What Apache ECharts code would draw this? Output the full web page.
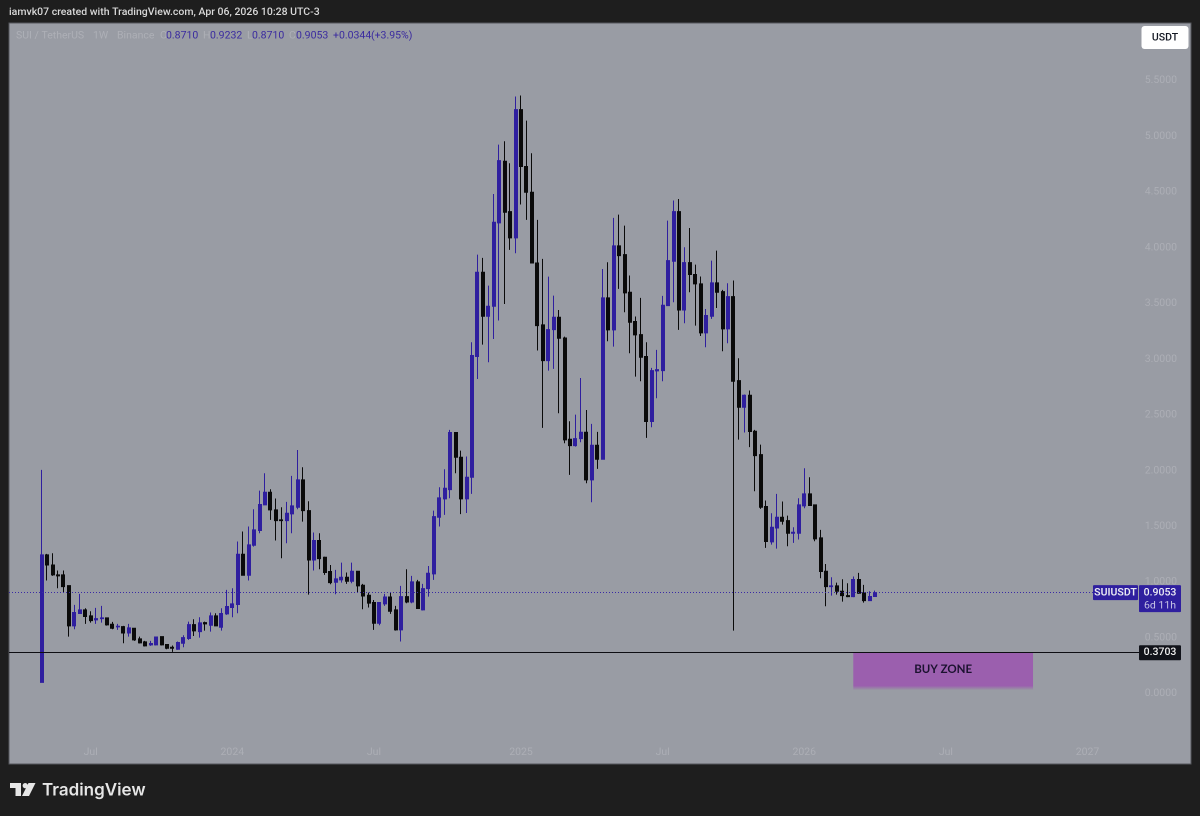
<!DOCTYPE html>
<html>
<head>
<meta charset="utf-8">
<style>
html,body{margin:0;padding:0;background:#1e1e1e;}
#chart{width:1200px;height:816px;}
</style>
<script src="https://cdn.jsdelivr.net/npm/echarts@6/dist/echarts.min.js"></script>
</head>
<body>
<div id="chart"></div>
<script>
// weekly SUIUSDT candles, first week is 2023-05-01
const openPrices=[0.10,1.244,1.154,1.065,1.065,0.969,0.607,0.718,0.751,0.697,0.661,0.673,0.679,0.622,0.598,0.601,0.544,0.586,0.491,0.464,
0.437,0.437,0.511,0.44,0.416,0.398,0.452,0.494,0.619,0.556,0.637,0.613,0.697,0.595,0.715,0.772,0.799,1.25,1.062,1.331,
1.463,1.693,1.806,1.648,1.558,1.552,1.612,1.672,1.917,1.642,1.199,1.373,1.223,1.095,0.999,1.02,1.044,1.008,1.098,0.972,
0.882,0.817,0.631,0.805,0.867,0.751,0.571,0.87,0.822,1.002,0.751,0.942,1.074,1.582,1.747,1.83,2.342,2.121,1.747,1.941,
3.024,3.78,3.386,3.475,4.223,4.776,4.325,4.089,5.24,4.729,4.498,3.864,3.308,2.988,3.266,3.377,3.191,2.282,2.225,2.288,
2.345,1.917,2.228,2.103,3.55,3.263,4.017,3.939,3.601,3.338,3.221,3.024,2.441,2.895,2.898,3.481,3.879,4.325,3.442,3.867,
3.76,3.676,3.236,3.386,3.685,3.607,3.272,3.562,2.808,2.569,2.677,2.354,2.144,1.678,1.361,1.486,1.582,1.552,1.439,1.439,
1.684,1.792,1.693,1.397,1.098,0.96,0.966,0.918,0.879,0.87,1.023,0.903,0.834,0.871];
const closePrices=[1.244,1.154,1.065,1.056,0.96,0.607,0.727,0.751,0.691,0.655,0.673,0.679,0.616,0.586,0.604,0.544,0.589,0.482,0.455,0.428,
0.449,0.508,0.437,0.407,0.407,0.458,0.502,0.619,0.562,0.634,0.625,0.697,0.607,0.718,0.781,0.805,1.25,1.062,1.334,1.469,
1.696,1.806,1.648,1.552,1.552,1.618,1.684,1.917,1.642,1.199,1.373,1.211,1.086,0.996,1.029,1.044,1.008,1.098,0.966,0.876,
0.811,0.631,0.817,0.867,0.739,0.571,0.87,0.822,1.002,0.763,0.942,1.08,1.588,1.756,1.842,2.342,2.121,1.747,1.941,3.033,
3.78,3.386,3.475,4.229,4.782,4.319,4.089,5.24,4.729,4.498,3.864,3.302,2.988,3.266,3.377,3.188,2.276,2.225,2.288,2.345,
1.917,2.228,2.103,3.55,3.263,4.017,3.93,3.595,3.332,3.218,3.018,2.441,2.898,2.907,3.484,3.885,4.325,3.442,3.867,3.76,
3.676,3.236,3.392,3.685,3.601,3.272,3.562,2.802,2.569,2.677,2.352,2.135,1.672,1.364,1.492,1.582,1.546,1.439,1.448,1.693,
1.792,1.687,1.388,1.095,0.96,0.966,0.918,0.879,0.87,1.023,0.9,0.834,0.871,0.9053];
const lowPrices=[0.0987,1.014,1.056,0.945,0.906,0.511,0.577,0.718,0.625,0.637,0.625,0.637,0.61,0.577,0.571,0.452,0.511,0.473,0.449,0.422,
0.428,0.431,0.431,0.398,0.374,0.392,0.416,0.482,0.517,0.502,0.565,0.556,0.607,0.565,0.706,0.685,0.721,1.062,1.014,1.319,
1.439,1.693,1.558,1.373,1.214,1.349,1.439,1.654,1.543,0.888,1.104,1.116,1.065,0.981,0.891,0.996,0.984,0.99,0.906,0.757,
0.772,0.571,0.613,0.787,0.715,0.565,0.467,0.81,0.81,0.763,0.745,0.87,1.02,1.499,1.603,1.753,1.977,1.61,1.62,1.792,
2.823,3.131,2.973,3.182,3.347,3.496,3.981,3.951,4.388,4.25,3.864,3.078,2.384,2.898,2.913,2.515,2.246,1.962,2.216,2.255,
1.887,1.717,2.016,2.103,3.161,3.113,3.631,3.422,3.054,2.844,2.802,2.294,2.39,2.65,2.802,3.481,3.511,3.263,3.323,3.601,
3.302,3.209,3.107,3.362,3.46,3.072,3.143,0.565,2.279,2.342,2.211,1.815,1.657,1.307,1.337,1.301,1.516,1.322,1.352,1.382,
1.663,1.687,1.367,1.035,0.784,0.879,0.888,0.825,0.864,0.864,0.894,0.816,0.834,0.871];
const highPrices=[2.007,1.253,1.259,1.104,1.104,0.969,0.796,0.894,0.766,0.739,0.769,0.787,0.679,0.643,0.625,0.607,0.625,0.586,0.511,0.473,
0.473,0.511,0.511,0.44,0.431,0.467,0.523,0.646,0.667,0.685,0.646,0.727,0.721,0.766,0.93,0.945,1.364,1.454,1.499,1.654,
1.821,1.977,1.833,1.75,1.672,1.72,1.953,2.186,2.031,1.726,1.445,1.439,1.229,1.154,1.11,1.175,1.086,1.175,1.098,0.984,
0.906,0.84,0.822,0.894,0.906,0.787,0.966,1.116,1.056,1.02,0.984,1.145,1.642,1.851,2.013,2.366,2.342,2.18,2.127,3.152,
3.939,3.909,3.661,4.483,4.926,4.956,4.759,5.357,5.366,5.141,4.848,4.25,3.9,3.741,3.571,3.442,3.203,2.444,2.503,2.832,
2.545,2.42,2.348,3.81,3.87,4.268,4.298,4.199,3.751,3.383,3.55,3.152,2.922,3.084,3.568,4.244,4.424,4.438,4.005,4.178,
3.849,3.742,3.451,3.885,3.975,3.622,3.682,3.706,3.009,2.683,2.719,2.366,2.234,1.732,1.618,1.792,1.723,1.597,1.492,1.753,
2.022,1.941,1.693,1.469,1.163,1.044,0.996,1.026,0.99,1.05,1.083,0.975,0.918,0.9232];

const priceTicks=[0,0.5,1,1.5,2,2.5,3,3.5,4,4.5,5,5.5];
const tickWeeks=['2023-07-03','2024-01-01','2024-07-01','2025-01-06','2025-07-07','2026-01-05','2026-07-06','2027-01-04'];
const tickLabels=['Jul','2024','Jul','2025','Jul','2026','Jul','2027'];
const lastPrice=0.9053;
const levelPrice=0.3703;
const zoneTop=0.37;
const zoneBottom=0.03;
const zoneWeeks=['2026-03-09','2026-10-26'];

const leadWeeks=6;
const totalWeeks=218;
let categories=[];
for(let i=0;i<totalWeeks;i++){
    let d=new Date(Date.UTC(2023,4,1)+(i-leadWeeks)*7*86400000);
    categories.push(d.toISOString().slice(0,10));
}
let candles=openPrices.map((o,i)=>[categories[i+leadWeeks],o,closePrices[i],lowPrices[i],highPrices[i]]);

const up='#2f1f9f';
const down='#0a0a0a';
const axisText='#adafb6';
const fontName='Roboto, "Noto Sans", sans-serif';

// 2x canvas so the body widths do not snap to whole pixels
let chart=echarts.init(document.getElementById('chart'),null,{renderer:'canvas',devicePixelRatio:2});

let option={
    animation:false,
    backgroundColor:'#1e1e1e',
    grid:{left:9,right:9,top:23,bottom:52,show:true,backgroundColor:'#999ca4',borderColor:'#55575c',borderWidth:1},
    xAxis:{
        type:'category',
        data:categories,
        boundaryGap:false,
        axisLine:{show:false},
        axisTick:{show:false},
        splitLine:{show:false},
        axisLabel:{
            inside:true,
            margin:6,
            fontFamily:fontName,
            fontSize:10.5,
            color:axisText,
            hideOverlap:false,
            interval:(i,name)=>tickWeeks.includes(name),
            formatter:(name)=>tickLabels[tickWeeks.indexOf(name)],
            fontWeight:'normal'
        }
    },
    yAxis:{
        type:'value',
        position:'right',
        min:-0.632,
        max:6.017,
        scale:true,
        axisLine:{show:false},
        axisTick:{show:false},
        splitLine:{show:false},
        axisLabel:{
            inside:true,
            margin:14,
            customValues:priceTicks,
            fontFamily:fontName,
            fontSize:10.5,
            color:axisText,
            formatter:(v)=>v.toFixed(4)
        }
    },
    series:[{
        type:'candlestick',
        data:candles,
        encode:{x:0,y:[1,2,3,4]},
        barWidth:3.5,
        clip:true,
        itemStyle:{color:up,color0:down,borderColor:up,borderColor0:down,borderWidth:1},
        markLine:{
            silent:true,
            symbol:'none',
            animation:false,
            label:{show:false},
            data:[
                [{coord:[categories[0],lastPrice],lineStyle:{type:[1,2],color:'#3a2aa5',width:1}},{coord:[categories[199],lastPrice]}],
                [{coord:[categories[0],levelPrice],lineStyle:{type:'solid',color:'#0d0d12',width:1}},{coord:[categories[208],levelPrice]}]
            ]
        },
        markArea:{
            silent:true,
            animation:false,
            itemStyle:{color:new echarts.graphic.LinearGradient(0,0,0,1,[
                {offset:0,color:'#9b5fae'},
                {offset:0.88,color:'#9b5fae'},
                {offset:1,color:'#999ca4'}
            ])},
            label:{show:true,position:'inside',formatter:'BUY ZONE',color:'#1c1230',fontWeight:'bold',fontSize:11.5,offset:[0,-2],fontFamily:'Lato, "Noto Sans", sans-serif'},
            data:[[{coord:[zoneWeeks[0],zoneTop]},{coord:[zoneWeeks[1],zoneBottom]}]]
        }
    }]
};
chart.setOption(option);

// header, price tags and logo sit on top of the plot
let yLast=chart.convertToPixel({yAxisIndex:0},lastPrice);
let yLevel=chart.convertToPixel({yAxisIndex:0},levelPrice);
function label(x,y,text,color,size,weight,align,family){
    return {type:'text',x:x,y:y,z:20,style:{text:text,fill:color,fontSize:size,fontWeight:weight||'normal',align:align||'left',verticalAlign:'middle',fontFamily:family||fontName}};
}
const faded='#aeb0b7';
const blueText='#3a2aa0';
chart.setOption({graphic:[
    label(9,12.5,'iamvk07 created with TradingView.com, Apr 06, 2026 10:28 UTC-3','#d9d9d9',10.5,'500'),
    label(16,36,'SUI / TetherUS',faded,10.5),
    label(93,36,'1W',faded,10.5),
    label(117,36,'Binance',faded,10.5),
    label(160,36,'O',faded,10.5),
    label(166,36,'0.8710',blueText,10.5),
    label(203,36,'H',faded,10.5),
    label(210,36,'0.9232',blueText,10.5),
    label(247,36,'L',faded,10.5),
    label(252,36,'0.8710',blueText,10.5),
    label(289,36,'C',faded,10.5),
    label(296,36,'0.9053',blueText,10.5),
    label(333,36,'+0.0344',blueText,10.5),
    label(371,36,'(+3.95%)',blueText,10.5),
    {type:'rect',z:20,shape:{x:1141.5,y:26,width:47,height:23,r:3},style:{fill:'#ffffff'}},
    label(1165,38,'USDT','#131722',10.5,'500','center'),
    {type:'rect',z:20,shape:{x:1093,y:yLast-7.5,width:45,height:15,r:1},style:{fill:up}},
    label(1115.5,yLast,'SUIUSDT','#e8e8f2',10.5,'600','center'),
    {type:'rect',z:20,shape:{x:1139,y:yLast-7.5,width:42,height:27,r:1},style:{fill:up}},
    label(1160,yLast,'0.9053','#f0f0f6',10.5,'500','center'),
    label(1160,yLast+13,'6d 11h','#c9c6e6',10.5,'normal','center'),
    {type:'rect',z:20,shape:{x:1139,y:yLevel-7,width:42,height:15,r:1},style:{fill:'#11131a'}},
    label(1160,yLevel,'0.3703','#f0f0f0',10.5,'500','center'),
    {type:'polygon',z:20,shape:{points:[[10,783],[21,783],[21,796],[15.5,796],[15.5,788],[10,788]]},style:{fill:'#e6e6e6'}},
    {type:'circle',z:20,shape:{cx:25.2,cy:785.6,r:2.6},style:{fill:'#e6e6e6'}},
    {type:'polygon',z:20,shape:{points:[[28.5,783],[35.5,783],[29,796],[22,796]]},style:{fill:'#e6e6e6'}},
    label(42,790.5,'TradingView','#e6e6e6',17,'600','left','Inter, Roboto, sans-serif')
]});
</script>
</body>
</html>
